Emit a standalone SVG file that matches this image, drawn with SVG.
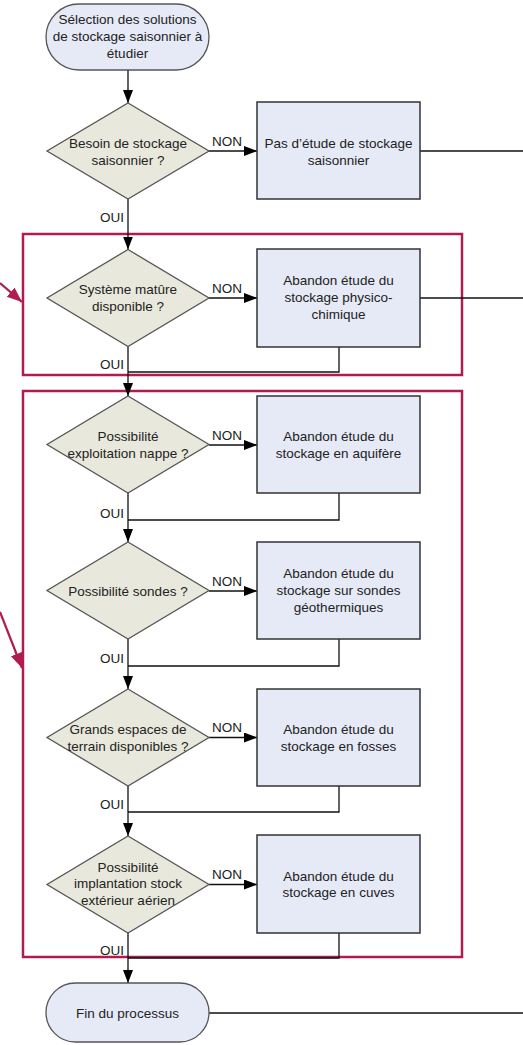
<svg xmlns="http://www.w3.org/2000/svg" width="523" height="1045" viewBox="0 0 523 1045">
<style>
text{font-family:"Liberation Sans",Arial,sans-serif;font-size:13.5px;fill:#222;text-anchor:middle}
.lbl{text-anchor:start}
.lblr{text-anchor:end}
.term{fill:#e6eaf6;stroke:#555;stroke-width:1.3}
.dec{fill:#e8e9dc;stroke:#555;stroke-width:1.3}
.box{fill:#e6eaf6;stroke:#333;stroke-width:1.5}
.ln{fill:none;stroke:#111;stroke-width:1.3}
.arr{marker-end:url(#ah)}
.grp{fill:none;stroke:#b01c50;stroke-width:2.5}
.mg{fill:none;stroke:#b01c50;stroke-width:2.2;marker-end:url(#mh)}
</style>
<defs>
<marker id="ah" markerUnits="userSpaceOnUse" markerWidth="14" markerHeight="12" refX="13" refY="5" orient="auto">
<path d="M0,0 L13,5 L0,10 z" fill="#000"/>
</marker>
<marker id="mh" markerUnits="userSpaceOnUse" markerWidth="16" markerHeight="14" refX="15" refY="6" orient="auto">
<path d="M0,0 L15,6 L0,12 z" fill="#b01c50"/>
</marker>
</defs>

<g id="groups">
<rect class="grp" x="23" y="234" width="439" height="141"/>
<rect class="grp" x="23" y="391" width="439" height="566"/>
<path class="mg" d="M0,283 L22,302"/>
<path class="mg" d="M0,612 L22,668"/>
</g>

<g id="connectors">
<path class="ln arr" d="M128,70 V103"/>
<path class="ln arr" d="M209,151 H257"/>
<path class="ln" d="M420,151 H523"/>
<path class="ln arr" d="M128,199 V249.5"/>
<path class="ln arr" d="M209,298 H257"/>
<path class="ln" d="M420,298 H523"/>
<path class="ln" d="M339,347 V372 H128"/>
<path class="ln arr" d="M128,346.5 V396"/>
<path class="ln arr" d="M209,445 H257"/>
<path class="ln" d="M339,493 V520 H128"/>
<path class="ln arr" d="M128,493 V542"/>
<path class="ln arr" d="M209,591 H257"/>
<path class="ln" d="M339,639 V666 H128"/>
<path class="ln arr" d="M128,639 V689"/>
<path class="ln arr" d="M209,737.5 H257"/>
<path class="ln" d="M339,786 V812 H128"/>
<path class="ln arr" d="M128,786 V836"/>
<path class="ln arr" d="M209,884.5 H257"/>
<path class="ln" d="M339,933 V958 H128"/>
<path class="ln arr" d="M128,933 V983"/>
<path class="ln" d="M209,1013 H523"/>
<text class="lbl" x="212" y="146">NON</text>
<text class="lbl" x="212" y="293">NON</text>
<text class="lbl" x="212" y="440">NON</text>
<text class="lbl" x="212" y="586">NON</text>
<text class="lbl" x="212" y="732">NON</text>
<text class="lbl" x="212" y="879">NON</text>
<text class="lblr" x="124" y="222">OUI</text>
<text class="lblr" x="124" y="369">OUI</text>
<text class="lblr" x="124" y="518">OUI</text>
<text class="lblr" x="124" y="663">OUI</text>
<text class="lblr" x="124" y="809">OUI</text>
<text class="lblr" x="124" y="955">OUI</text>
</g>

<g id="start">
<rect class="term" x="46" y="4" width="163" height="66" rx="33"/>
<text x="127.5" y="24">Sélection des solutions</text>
<text x="127.5" y="41">de stockage saisonnier à</text>
<text x="127.5" y="58">étudier</text>
</g>

<g id="d1">
<polygon class="dec" points="128,103 209,151 128,199 47,151"/>
<text x="128" y="148">Besoin de stockage</text>
<text x="128" y="165">saisonnier ?</text>
</g>
<g id="b1">
<rect class="box" x="257" y="102" width="163" height="97"/>
<text x="338.5" y="148">Pas d’étude de stockage</text>
<text x="338.5" y="165">saisonnier</text>
</g>

<g id="d2">
<polygon class="dec" points="128,249.5 209,298 128,346.5 47,298"/>
<text x="128" y="294">Système matûre</text>
<text x="128" y="311">disponible ?</text>
</g>
<g id="b2">
<rect class="box" x="257" y="249" width="163" height="98"/>
<text x="338.5" y="285">Abandon étude du</text>
<text x="338.5" y="302">stockage physico-</text>
<text x="338.5" y="319">chimique</text>
</g>

<g id="d3">
<polygon class="dec" points="128,396 209,444.5 128,493 47,444.5"/>
<text x="128" y="441">Possibilité</text>
<text x="128" y="458">exploitation nappe ?</text>
</g>
<g id="b3">
<rect class="box" x="257" y="396" width="163" height="97"/>
<text x="338.5" y="441">Abandon étude du</text>
<text x="338.5" y="458">stockage en aquifère</text>
</g>

<g id="d4">
<polygon class="dec" points="128,542 209,590.5 128,639 47,590.5"/>
<text x="128" y="596">Possibilité sondes ?</text>
</g>
<g id="b4">
<rect class="box" x="257" y="542" width="163" height="97"/>
<text x="338.5" y="578">Abandon étude du</text>
<text x="338.5" y="595">stockage sur sondes</text>
<text x="338.5" y="612">géothermiques</text>
</g>

<g id="d5">
<polygon class="dec" points="128,689 209,737.5 128,786 47,737.5"/>
<text x="128" y="734">Grands espaces de</text>
<text x="128" y="751">terrain disponibles ?</text>
</g>
<g id="b5">
<rect class="box" x="257" y="689" width="163" height="97"/>
<text x="338.5" y="734">Abandon étude du</text>
<text x="338.5" y="751">stockage en fosses</text>
</g>

<g id="d6">
<polygon class="dec" points="128,836 209,884.5 128,933 47,884.5"/>
<text x="128" y="872">Possibilité</text>
<text x="128" y="888">implantation stock</text>
<text x="128" y="905">extérieur aérien</text>
</g>
<g id="b6">
<rect class="box" x="257" y="835" width="163" height="98"/>
<text x="338.5" y="881">Abandon étude du</text>
<text x="338.5" y="897">stockage en cuves</text>
</g>

<g id="end">
<rect class="term" x="46" y="983" width="163" height="59" rx="29.5"/>
<text x="127.5" y="1018">Fin du processus</text>
</g>
</svg>
